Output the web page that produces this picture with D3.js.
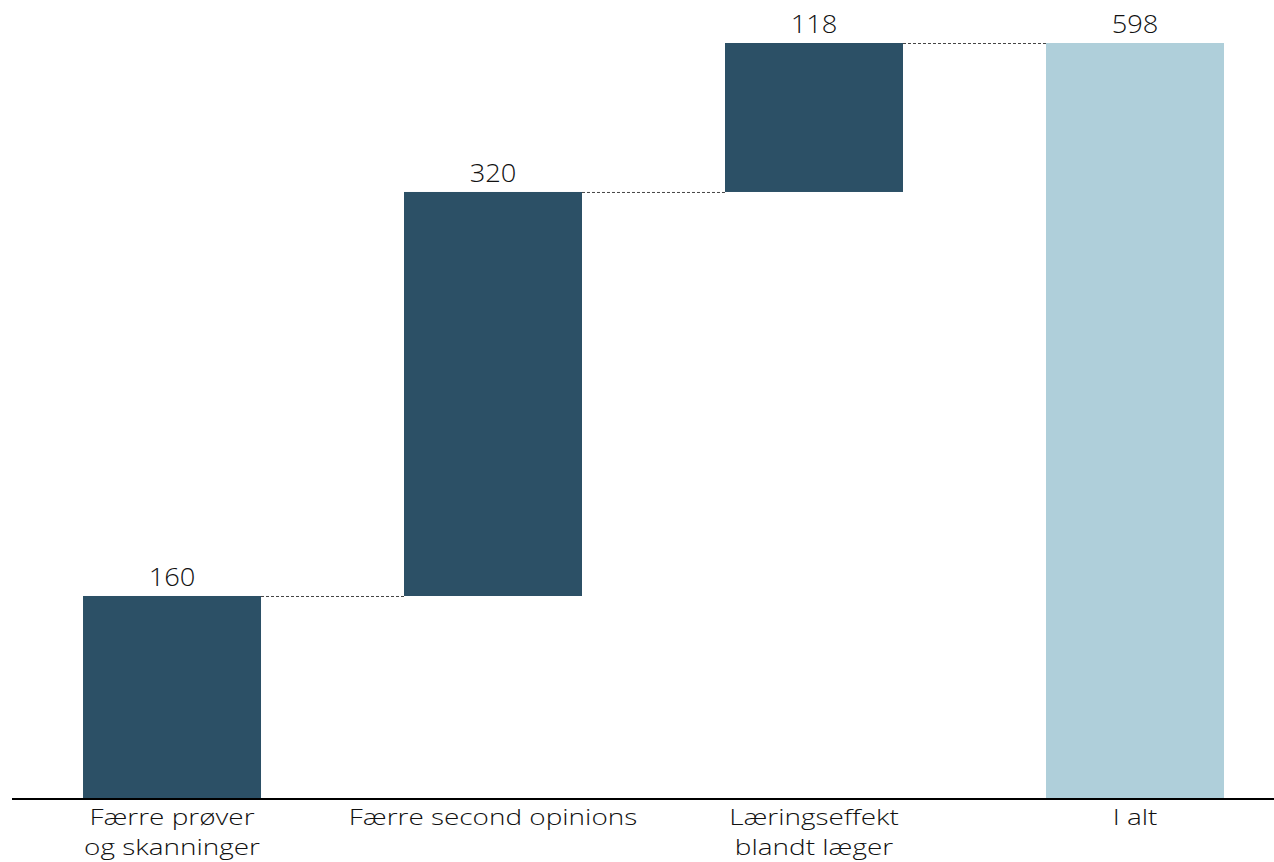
<!DOCTYPE html>
<html>
<head>
<meta charset="utf-8">
<script src="https://cdn.jsdelivr.net/npm/d3@7"></script>
<style>
  html, body { margin: 0; padding: 0; background: #fff; }
  svg { display: block; font-family: "Century Gothic", "URW Gothic", "Open Sans", "Lato", sans-serif; font-weight: 300; }
</style>
</head>
<body>
<svg id="chart" width="1274" height="862"></svg>
<script>
// Waterfall data: contributions and total
const categories = ["Færre prøver\nog skanninger", "Færre second opinions", "Læringseffekt\nblandt læger", "I alt"];
const values = [160, 320, 118, 598];
const isTotal = [false, false, false, true];

const W = 1274, H = 862;
const baseY = 798;
const labelSize = 22;
const labelStretch = 1.27;   // widen glyphs toward a geometric face
const svg = d3.select("#chart");

const x = d3.scaleBand()
  .domain(categories)
  .range([11.5, 1295.5])
  .paddingInner(0.4455)
  .paddingOuter(0.2228);

const y = d3.scaleLinear().domain([0, 598]).range([baseY, 43]);

// running start/end for each step
let acc = 0;
const steps = categories.map((c, i) => {
  let start, end;
  if (isTotal[i]) { start = 0; end = values[i]; acc = values[i]; }
  else { start = acc; end = acc + values[i]; acc = end; }
  return { cat: c, value: values[i], start, end, total: isTotal[i] };
});

// dashed connectors
steps.slice(0, -1).forEach((s, i) => {
  const n = steps[i + 1];
  svg.append("line")
    .attr("x1", x(s.cat) + x.bandwidth())
    .attr("x2", x(n.cat))
    .attr("y1", y(s.end) + 0.5)
    .attr("y2", y(s.end) + 0.5)
    .attr("stroke", "#444")
    .attr("stroke-width", 1)
    .attr("stroke-dasharray", "3,2");
});

// bars
svg.selectAll("rect.bar").data(steps).enter().append("rect")
  .attr("class", "bar")
  .attr("x", d => x(d.cat))
  .attr("width", x.bandwidth())
  .attr("y", d => y(Math.max(d.start, d.end)))
  .attr("height", d => Math.abs(y(d.start) - y(d.end)))
  .attr("fill", d => d.total ? "#afcfda" : "#2c5066");

// value labels
svg.selectAll("text.val").data(steps).enter().append("text")
  .attr("class", "val")
  .attr("transform", d => `translate(${x(d.cat) + x.bandwidth() / 2},${y(d.end) - 10}) scale(1.05,1)`)
  .attr("text-anchor", "middle")
  .attr("font-size", 26)
  .attr("fill", "#111")
  .text(d => d.value);

// baseline axis
svg.append("line")
  .attr("x1", 12).attr("x2", W)
  .attr("y1", baseY + 1).attr("y2", baseY + 1)
  .attr("stroke", "#000").attr("stroke-width", 2);

// category labels, one text element per line
steps.forEach(d => {
  const cx = x(d.cat) + x.bandwidth() / 2;
  d.cat.split("\n").forEach((line, k) => {
    svg.append("text")
      .attr("transform", `translate(${cx},${824.5 + k * 30}) scale(${labelStretch},1)`)
      .attr("text-anchor", "middle")
      .attr("font-size", labelSize)
      .attr("fill", "#111")
      .text(line);
  });
});
</script>
</body>
</html>
